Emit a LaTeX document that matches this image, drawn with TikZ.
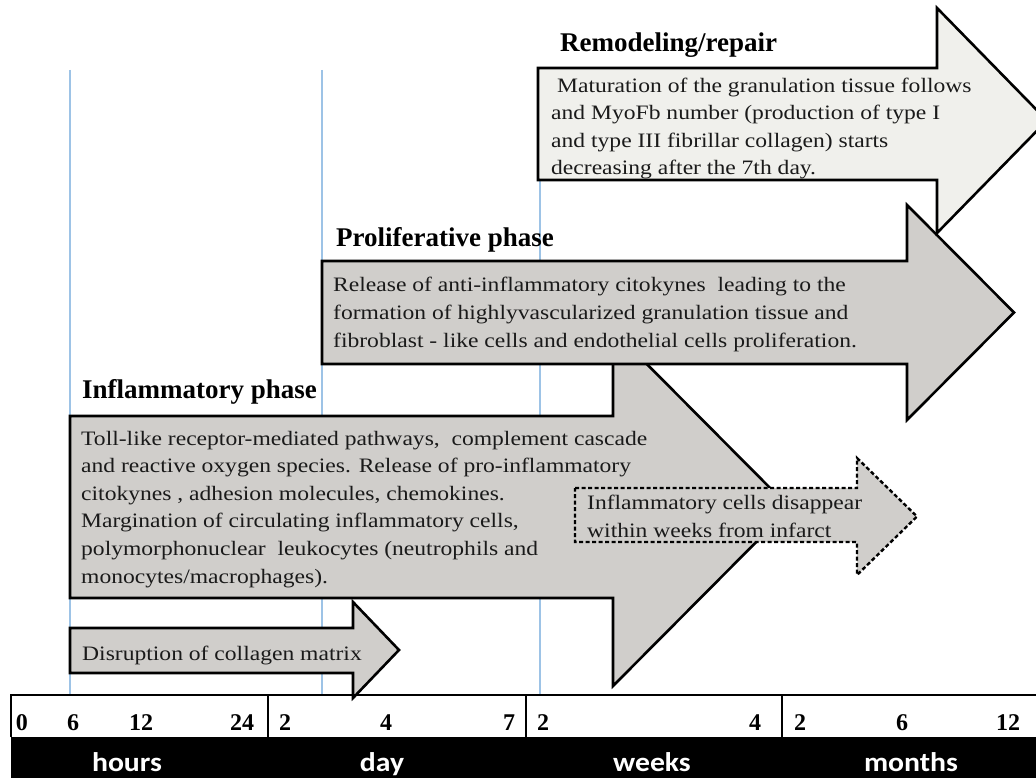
\documentclass[tikz,border=0pt]{standalone}
\usepackage{fontspec}
\setmainfont{Liberation Serif}
\newfontfamily\bodyfont{Liberation Serif}[FakeStretch=1.15]
\newfontfamily\unitfont{Carlito}[FakeStretch=1.1]
\usepackage{tikz}
\usetikzlibrary{positioning}
\definecolor{Ink}{HTML}{1A1A1A}
\definecolor{Phase}{HTML}{D0CECB}
\definecolor{PhaseLight}{HTML}{F0F0EC}
\definecolor{Guide}{HTML}{9DC3E6}

% block arrow: [style]{left}{head base}{tip}{body top}{body bottom}{head top}{head bottom}
\newcommand{\phasearrow}[8][]{%
  \draw[#1] (#2,#5) -- (#3,#5) -- (#3,#7) -- (#4,{(#7+#8)/2}) -- (#3,#8) -- (#3,#6) -- (#2,#6) -- cycle;}

\begin{document}
\begin{tikzpicture}[
  x=1pt, y=-1pt,
  phase/.style={fill=Phase, draw=black, line width=2.6pt, line join=miter},
  fading/.style={phase, dash pattern=on 4pt off 2.5pt, line width=2.4pt},
  heading/.style={anchor=base west, inner sep=0pt, font=\fontsize{27}{30}\selectfont\bfseries, text=black},
  body/.style={anchor=base west, inner sep=0pt, align=left, font=\bodyfont\fontsize{20.5}{27.6}\selectfont, text=Ink},
  tick/.style={anchor=base, inner sep=0pt, font=\fontsize{24}{28}\selectfont\bfseries},
  unit/.style={anchor=base, inner sep=0pt, text=white, font=\unitfont\fontsize{27}{30}\selectfont\bfseries},
  guide/.style={draw=Guide, line width=2.5pt},
  frame/.style={draw=black, line width=1.4pt}
]
\useasboundingbox (0,0) rectangle (1036,778);
\clip (0,0) rectangle (1036,778);

% time guides
\foreach \x in {70,322,540}
  \draw[guide] (\x,70) -- (\x,695);

% phases, back to front
\phasearrow[phase]{70}{613}{790}{416}{598}{330}{686}
\phasearrow[phase]{70}{353}{399}{628}{673}{602}{698}
\phasearrow[fading]{575}{857}{917}{488}{542}{458}{575}
\phasearrow[phase]{322}{907}{1014}{261}{364}{205}{420}
\phasearrow[phase, fill=PhaseLight]{538}{937}{1047}{68}{180}{8}{233}

% inflammatory (body nodes sit on their last baseline)
\node[heading] (inflTitle) at (82,398) {Inflammatory phase};
\node[body] (inflText) at (81,583) {Toll-like receptor-mediated pathways,\ \ complement cascade\\
  and reactive oxygen species. Release of pro-inflammatory\\
  citokynes , adhesion molecules, chemokines.\\
  Margination of circulating inflammatory cells,\\
  polymorphonuclear\ \ leukocytes (neutrophils and\\
  monocytes/macrophages).};
\node[body] (collagen) at (82,660) {Disruption of collagen matrix};
\node[body] (vanish) at (587,537) {Inflammatory cells disappear\\within weeks from infarct};

% proliferative
\node[heading] (prolTitle) at (336,247) {Proliferative phase};
\node[body] (prolText) at (333,347) {Release of anti-inflammatory citokynes\ \ leading to the\\
  formation of highlyvascularized granulation tissue and\\
  fibroblast - like cells and endothelial cells proliferation.};

% remodeling
\node[heading] (remTitle) at (560,52) {Remodeling/repair};
\node[body] (remText) at (551,175) {\ Maturation of the granulation tissue follows\\
  and MyoFb number (production of type I\\
  and type III fibrillar collagen) starts\\
  decreasing after the 7th day.};

% time scale
\draw[frame] (11,737) -- (11,695) -- (1036,695);
\foreach \x in {268,526,782}
  \draw[frame] (\x,695) -- (\x,737);
\fill[black] (11,737) rectangle (1036,778);
\foreach \x/\t [count=\i] in {22/0,73/6,141/12,242/24,285/2,386/4,509/7,543/2,755/4,800/2,902/6,1008/12}
  \node[tick] (tick\i) at (\x,730) {\t};
\foreach \x/\t in {127/hours,382/day,652/weeks,911/months}
  \node[unit] (\t) at (\x,771) {\t};
\end{tikzpicture}
\end{document}
